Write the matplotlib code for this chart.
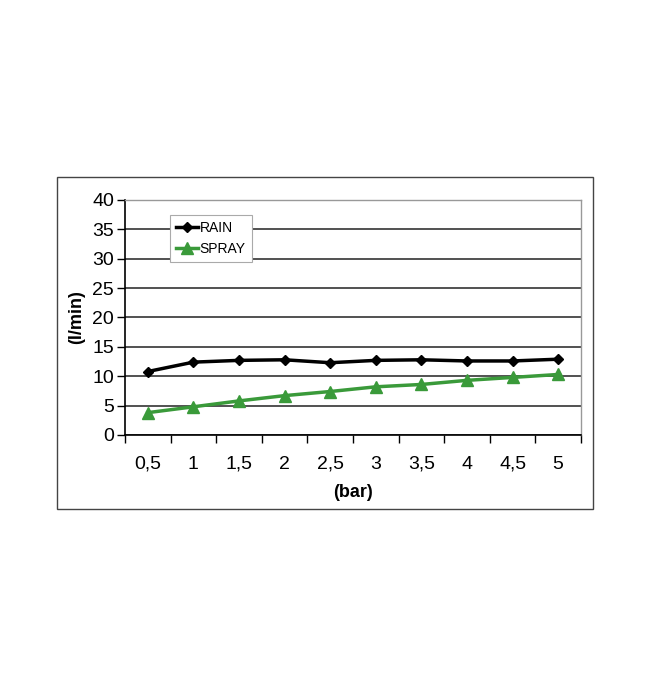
import matplotlib
matplotlib.use("Agg")
import matplotlib.pyplot as plt
from matplotlib.patches import Rectangle

plt.rcParams['font.family'] = ['Liberation Sans', 'DejaVu Sans']

# data
pressure = ['0,5', '1', '1,5', '2', '2,5', '3', '3,5', '4', '4,5', '5']
rain = [10.8, 12.4, 12.7, 12.8, 12.3, 12.7, 12.8, 12.6, 12.6, 12.9]
spray = [3.8, 4.8, 5.8, 6.7, 7.4, 8.2, 8.6, 9.3, 9.8, 10.3]
y_ticks = [0, 5, 10, 15, 20, 25, 30, 35, 40]

fig = plt.figure(figsize=(6.5, 6.99), dpi=100)

# outer frame around chart
fig.patches.append(Rectangle((0.0877, 0.2718), 0.8246, 0.475, transform=fig.transFigure,
                             fill=False, edgecolor='#444444', linewidth=1.0))

ax = fig.add_axes([0.1923, 0.3777, 0.7015, 0.3362])
xs = list(range(len(pressure)))

ax.plot(xs, rain, color='black', linewidth=2.5, marker='D', markersize=5, label='RAIN')
ax.plot(xs, spray, color='#3a9a3a', linewidth=2.5, marker='^', markersize=8.5, label='SPRAY')

ax.set_xlim(-0.5, len(pressure) - 0.5)
ax.set_ylim(0, 40)
ax.set_yticks(y_ticks)
ax.set_yticklabels([str(v) for v in y_ticks], fontsize=14)
ax.set_xticks(xs)
ax.set_xticklabels(pressure, fontsize=14)
ax.set_xticks([x - 0.5 for x in range(len(pressure) + 1)], minor=True)
ax.tick_params(axis='x', which='major', length=0, pad=15)
ax.tick_params(axis='x', which='minor', length=6, width=1, direction='out')
ax.tick_params(axis='y', length=6, width=1, direction='out', pad=2)

ax.grid(axis='y', color='#222222', linewidth=1.1)
ax.set_axisbelow(True)
for s in ['left', 'bottom']:
    ax.spines[s].set_color('black')
    ax.spines[s].set_linewidth(1.2)
for s in ['top', 'right']:
    ax.spines[s].set_color('#999999')
    ax.spines[s].set_linewidth(1)

ax.set_xlabel('(bar)', fontsize=13, fontweight='bold', labelpad=8)
ax.set_ylabel('(l/min)', fontsize=13, fontweight='bold', labelpad=5)

leg = ax.legend(loc='upper left', bbox_to_anchor=(0.098, 0.938), fontsize=10,
                frameon=True, fancybox=False, framealpha=1, edgecolor='#aaaaaa',
                handlelength=1.6, handletextpad=0.1, borderpad=0.45, labelspacing=0.5,
                borderaxespad=0)
leg.get_frame().set_linewidth(0.8)

fig.savefig('out.png', dpi=100, facecolor='white')
